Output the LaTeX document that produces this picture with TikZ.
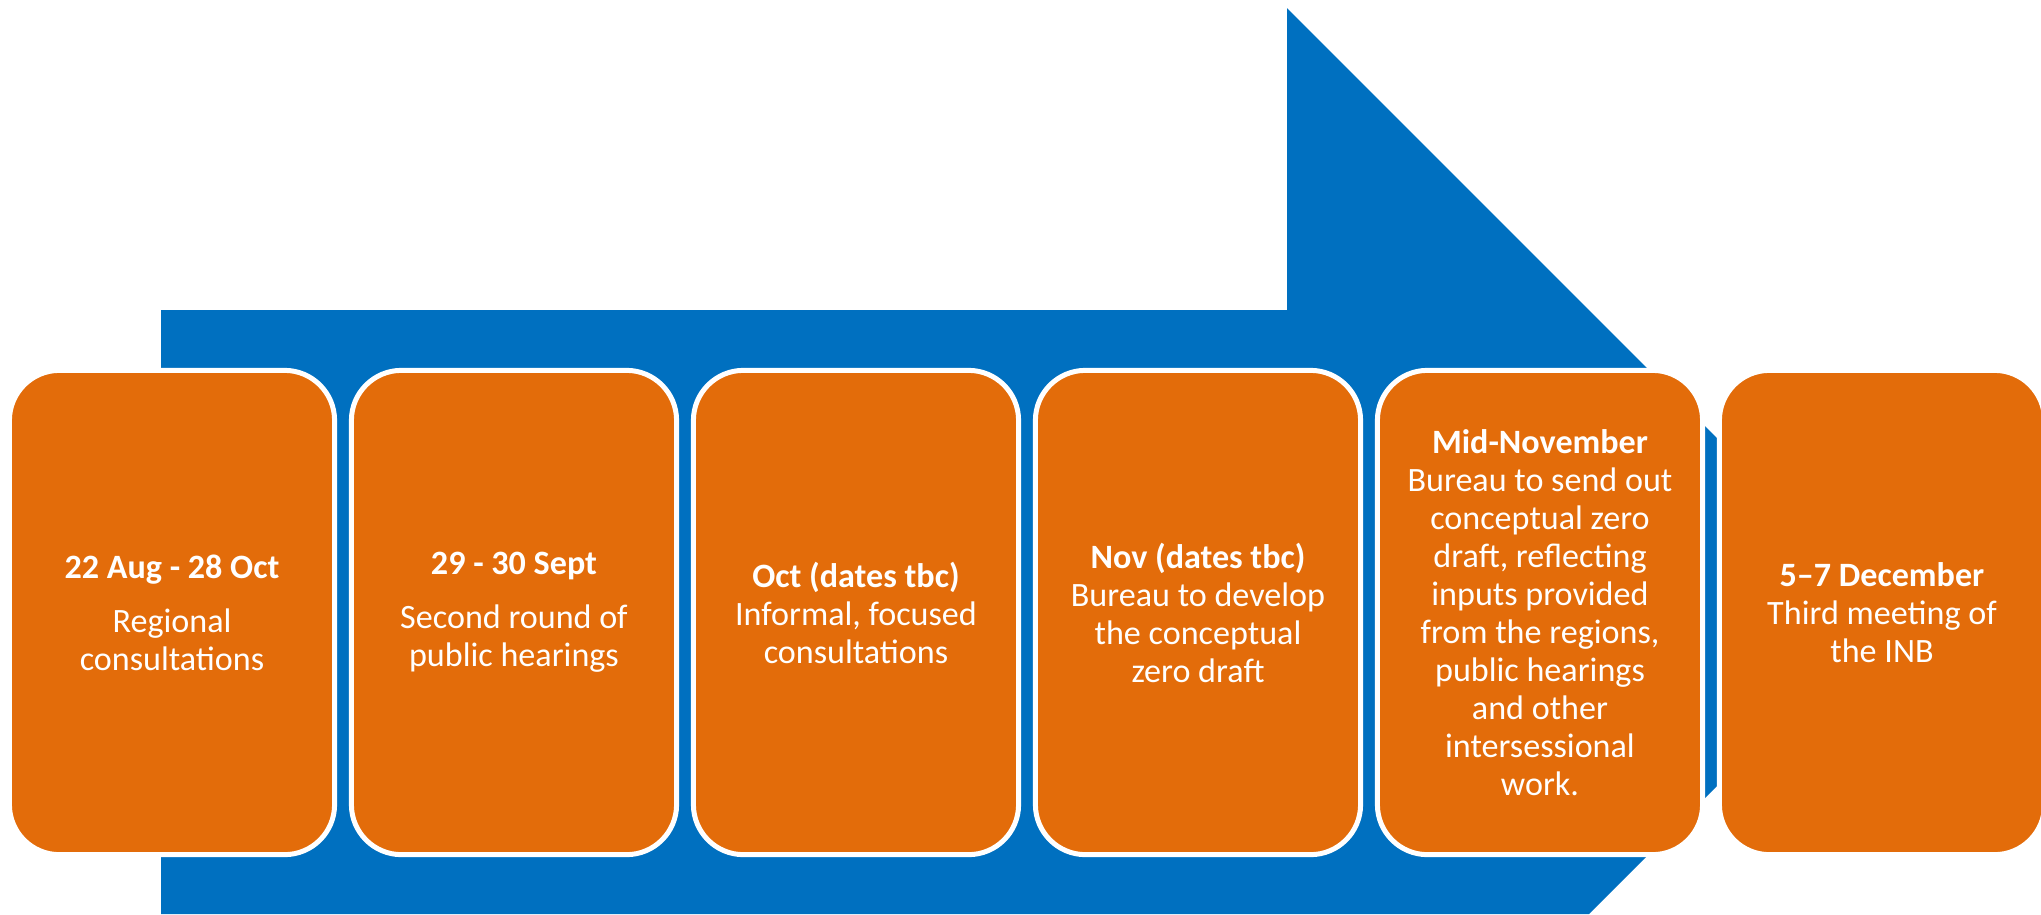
\documentclass[tikz,border=0pt]{standalone}
\usepackage{fontspec}
\setmainfont{Carlito}
\usepackage{xcolor}
\definecolor{arrowblue}{HTML}{0070C0}
\definecolor{stageorange}{HTML}{E36C0A}

\tikzset{
    stagebox/.style={draw=white, line width=1.42pt, fill=stageorange,
        rounded corners=0.5cm, minimum width=3.25cm, minimum height=4.84cm,
        inner sep=0pt, align=center, text=white,
        font=\fontsize{9.7pt}{10.81pt}\selectfont},
}

\begin{document}
\begin{tikzpicture}[x=0.01cm, y=-0.01cm]
    % Frame
    \useasboundingbox (0,0) rectangle (2041,914);
    \clip (0,0) rectangle (2041,914);
    % Blue arrow behind the stages
    \fill[arrowblue] (161,310) -- (1287,310) -- (1287,8) -- (1891,612)
        -- (1589,914) -- (161,914) -- cycle;
%
    % Stages of the timeline
    \node[stagebox] (regional) at (172,612.5)
        {\textbf{22 Aug - 28 Oct}\\[0.16cm] Regional\\ consultations};
    \node[stagebox] (hearings) at (514,612.5)
        {\textbf{29 - 30 Sept}\\[0.16cm] Second round of\\ public hearings};
    \node[stagebox] (informal) at (856,612.5)
        {\textbf{Oct (dates tbc)}\\ Informal, focused\\ consultations};
    \node[stagebox] (develop) at (1198,612.5)
        {\textbf{Nov (dates tbc)}\\ Bureau to develop\\ the conceptual\\ zero draft};
    \node[stagebox] (zerodraft) at (1540,612.5)
        {\textbf{Mid-November}\\ Bureau to send out\\ conceptual zero\\ draft, reflecting\\
         inputs provided\\ from the regions,\\ public hearings\\ and other\\
         intersessional\\ work.};
    \node[stagebox] (inb) at (1882,612.5)
        {\textbf{5–7 December}\\ Third meeting of\\ the INB};
\end{tikzpicture}
\end{document}
